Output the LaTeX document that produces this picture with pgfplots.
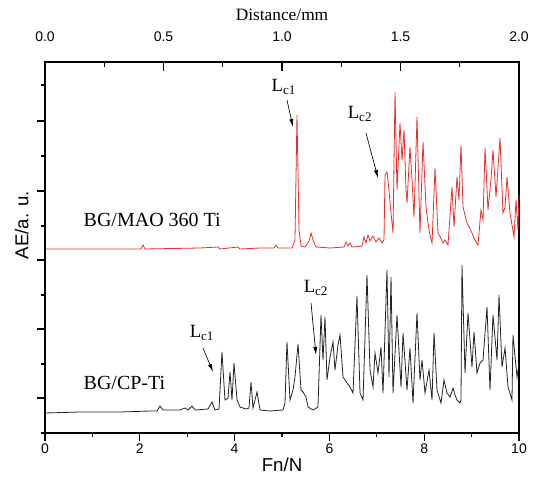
\documentclass[border=0pt]{standalone}
\usepackage{fontspec}
\setmainfont{Liberation Serif}
\newfontfamily\arial{Liberation Sans}
\usepackage{pgfplots}
\pgfplotsset{compat=1.18}
\usetikzlibrary{arrows.meta}
\definecolor{redline}{RGB}{232,45,45}
\definecolor{blackline}{RGB}{35,35,35}

\pgfplotstableread{
x y
0 184
1.160 184
2.025 184
2.068 188
2.110 184
3.270 185
3.650 186
3.692 184
4.072 186
4.114 184
4.536 185
4.831 185
4.873 188
4.916 185
5.211 185
5.274 193
5.316 318
5.359 203
5.401 187
5.485 186
5.570 192
5.612 200
5.654 193
5.717 186
6.013 185
6.308 186
6.350 191
6.392 187
6.435 190
6.477 186
6.688 187
6.730 196
6.772 190
6.814 198
6.857 192
6.920 197
6.983 191
7.046 195
7.110 190
7.152 193
7.173 258
7.215 261
7.257 243
7.280 230
7.300 220
7.342 200
7.384 341
7.426 243
7.489 310
7.532 273
7.574 303
7.616 243
7.637 230
7.700 286
7.743 253
7.785 216
7.848 316
7.911 200
7.975 291
8.038 226
8.080 210
8.120 198
8.165 190
8.228 265
8.291 200
8.340 196
8.397 190
8.440 193
8.502 188
8.586 246
8.629 206
8.692 256
8.734 233
8.776 288
8.819 226
8.860 218
8.903 210
8.950 206
9.008 200
9.070 193
9.135 188
9.198 223
9.241 213
9.283 285
9.346 223
9.409 253
9.451 283
9.515 236
9.599 295
9.662 220
9.705 226
9.747 256
9.810 220
9.895 196
9.937 233
9.979 203
10.0 238
}\redtable

\pgfplotstableread{
x y
0 20
0.738 21
1.582 21
2.215 22
2.363 22
2.426 27
2.489 23
2.848 23
2.954 25
3.017 23
3.101 27
3.165 23
3.439 24
3.523 31
3.586 23
3.671 24
3.734 81
3.797 33
3.861 35
3.903 61
3.945 33
3.987 70
4.051 33
4.114 26
4.241 24
4.304 25
4.346 51
4.388 25
4.473 41
4.536 23
4.747 22
5.021 23
5.063 30
5.105 91
5.169 33
5.232 43
5.274 56
5.338 89
5.401 43
5.443 41
5.506 36
5.549 26
5.654 23
5.759 26
5.823 118
5.865 73
5.907 116
5.949 53
6.013 76
6.076 91
6.118 63
6.181 88
6.224 98
6.287 56
6.371 50
6.435 46
6.498 40
6.582 137
6.646 40
6.709 33
6.793 158
6.857 63
6.920 46
6.962 80
7.025 60
7.089 86
7.131 40
7.215 163
7.257 56
7.300 156
7.342 40
7.426 118
7.511 46
7.553 100
7.637 43
7.700 85
7.764 30
7.848 120
7.911 53
7.954 73
8.017 40
8.101 63
8.165 33
8.207 100
8.270 43
8.354 30
8.418 53
8.481 40
8.544 36
8.608 45
8.650 38
8.692 33
8.755 30
8.776 33
8.797 168
8.861 60
8.924 120
9.008 66
9.051 101
9.114 60
9.177 70
9.241 73
9.325 126
9.388 43
9.451 118
9.536 73
9.578 138
9.641 66
9.705 85
9.768 46
9.852 33
9.873 98
9.958 56
10 70
}\blacktable

\begin{document}
\begin{tikzpicture}
\begin{axis}[
  scale only axis, width=355.5pt, height=278.25pt,
  at={(0,0)}, anchor=south west,
  xmin=0, xmax=10, ymin=0, ymax=371,
  xtick={0,2,...,10}, minor xtick={1,3,5,7,9},
  ytick={35,104,173,242,312}, minor ytick={0,69,138,207,277,348},
  yticklabels={},
  xtick pos=bottom, ytick pos=left, tick align=outside,
  major tick length=6pt, minor tick length=3pt,
  tick style={line width=0.8pt, black},
  axis line style={line width=0.8pt},
  ticklabel style={font=\arial\fontsize{10.5}{12}\selectfont},
  xticklabel style={yshift=1.5pt},
  /pgf/number format/assume math mode=true,
  xlabel={Fn/N}, ylabel={AE/a. u.},
  label style={font=\arial\fontsize{14}{16}\selectfont},
  xlabel style={at={(axis description cs:0.5,-0.086)},anchor=center},
  ylabel style={at={(axis description cs:-0.049,0.56)},anchor=center},
  clip=false,
]
\addplot[redline, line width=0.6pt] table[x=x,y=y] {\redtable};
\addplot[blackline, line width=0.6pt] table[x=x,y=y] {\blacktable};

\node[anchor=west, font=\fontsize{15}{17}\selectfont] at (axis cs:0.717,213) {BG/MAO 360 Ti};
\node[anchor=west, font=\fontsize{15}{17}\selectfont] at (axis cs:0.717,50) {BG/CP-Ti};

\node[font=\fontsize{14}{16}\selectfont] at (axis cs:5.04,346) {L\textsubscript{c1}};
\draw[-{Latex[length=6pt,width=3pt]}, line width=0.5pt] (axis cs:5.105,333) -- (axis cs:5.232,306);
\node[font=\fontsize{14}{16}\selectfont] at (axis cs:6.646,319) {L\textsubscript{c2}};
\draw[-{Latex[length=6pt,width=3pt]}, line width=0.5pt] (axis cs:6.772,300) -- (axis cs:7.025,255);
\node[font=\fontsize{14}{16}\selectfont] at (axis cs:3.312,100) {L\textsubscript{c1}};
\draw[-{Latex[length=6pt,width=3pt]}, line width=0.5pt] (axis cs:3.333,85) -- (axis cs:3.544,61);
\node[font=\fontsize{14}{16}\selectfont] at (axis cs:5.717,145) {L\textsubscript{c2}};
\draw[-{Latex[length=6pt,width=3pt]}, line width=0.5pt] (axis cs:5.612,130) -- (axis cs:5.717,78);
\end{axis}
\begin{axis}[
  scale only axis, width=355.5pt, height=278.25pt,
  at={(0,0)}, anchor=south west,
  xmin=0, xmax=2, ymin=0, ymax=1,
  axis x line*=top, axis y line=none,
  xtick={0,0.5,...,2}, minor xtick={0.25,0.75,1.25,1.75},
  tick align=inside, major tick length=7pt, minor tick length=3.5pt,
  tick style={line width=0.8pt, black},
  axis line style={line width=0.8pt},
  every x tick label/.append style={anchor=base, yshift=15pt},
  xticklabel style={font=\arial\fontsize{10.5}{12}\selectfont, /pgf/number format/.cd, fixed, fixed zerofill, precision=1},
  /pgf/number format/assume math mode=true,
  xlabel={Distance/mm},
  xlabel style={font=\fontsize{13}{15}\selectfont, at={(axis description cs:0.5,1)}, anchor=center, yshift=35pt},
]
\end{axis}
\path (0,0) ++(-33.75pt,-36.75pt) rectangle (355.5pt,278.25pt) ++(14.25pt,46.5pt);
\end{tikzpicture}
\end{document}
